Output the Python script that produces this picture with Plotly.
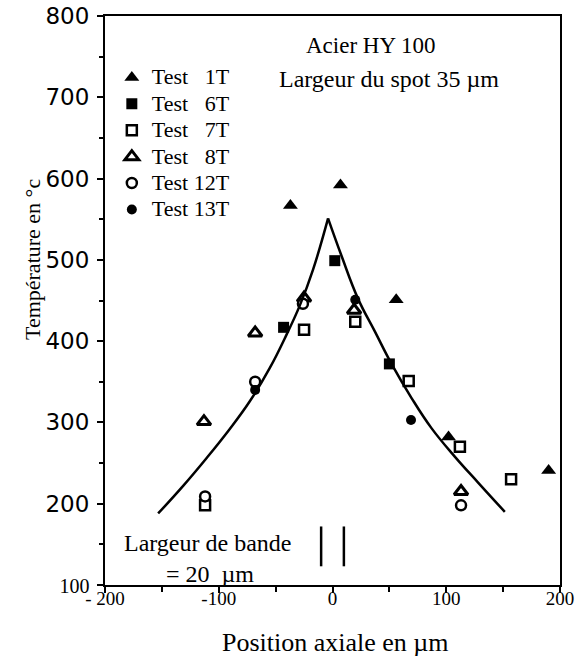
import plotly.graph_objects as go

# ---- data ----
t1_x = [7, -37, 56, 102, 190]
t1_y = [592, 567, 451, 282, 241]
t6_x = [2, -43, 50]
t6_y = [499, 417, 372]
t7_x = [-25, 20, 67, 112, 157, -112]
t7_y = [414, 424, 351, 270, 230, 198]
t8_x = [-68, -113, 19, 113, -25]
t8_y = [410, 301, 438, 215, 453]
t12_x = [-26, -68, -112, 113]
t12_y = [446, 350, 209, 198]
t13_x = [20, -68, 69]
t13_y = [451, 340, 303]

curve_left_x = [-153.3, -131.3, -110.8, -90.3, -72.7, -55.1, -40.4, -28.7, -17.1, -3.9]
curve_left_y = [188, 222, 256, 292, 326, 367, 408, 444, 488, 551]
curve_right_x = [-3.9, 7.9, 22.5, 37.2, 51.9, 69.5, 87, 107.5, 128, 151.5]
curve_right_y = [551, 505, 452, 412, 372, 330, 293, 258, 226, 190]

band_x = [-10, 10]
band_y = [123, 172]

x_tickvals = [-200, -100, 0, 100, 200]
x_ticktext = ["- 200", "-100", "0", "100", "200"]
y_tickvals = [100, 200, 300, 400, 500, 600, 700, 800]
y_ticktext = ["<span style='font-family:Liberation Serif;font-size:20px'>100</span>",
              "200", "300", "400", "500", "600", "700", "800"]

SERIF = "Liberation Serif, Times New Roman, serif"
BLACK = "black"

fig = go.Figure()

def add_pts(x, y, name, symbol, fill, size, lw):
    fig.add_trace(go.Scatter(
        x=x, y=y, mode="markers",
        name="<span style='font-size:22px'>" + name + "</span>",
        marker=dict(symbol=symbol, size=size, color=fill,
                    line=dict(color=BLACK, width=lw))))

add_pts(t1_x, t1_y, "Test\u00a0\u20071T", "triangle-up", BLACK, 13, 0)
add_pts(t6_x, t6_y, "Test\u00a0\u20076T", "square", BLACK, 11, 0)
add_pts(t7_x, t7_y, "Test\u00a0\u20077T", "square", "white", 10, 2.5)
add_pts(t8_x, t8_y, "Test\u00a0\u20078T", "triangle-up", "white", 12, 3)
add_pts(t12_x, t12_y, "Test 12T", "circle", "white", 10, 2.5)
add_pts(t13_x, t13_y, "Test 13T", "circle", BLACK, 10, 0)

for cx, cy in [(curve_left_x, curve_left_y), (curve_right_x, curve_right_y)]:
    fig.add_trace(go.Scatter(x=cx, y=cy, mode="lines", showlegend=False,
                             line=dict(color=BLACK, width=2.5, shape="spline", smoothing=1.2)))

for bx in band_x:
    fig.add_trace(go.Scatter(x=[bx, bx], y=band_y, mode="lines", showlegend=False,
                             line=dict(color=BLACK, width=2.5)))

fig.update_layout(
    template="none",
    width=581, height=659,
    margin=dict(l=105, r=21, t=16, b=74, pad=0),
    paper_bgcolor="white", plot_bgcolor="white",
    font=dict(family=SERIF, color=BLACK),
    showlegend=True,
    legend=dict(x=0.015, y=0.924, xanchor="left", yanchor="top",
                font=dict(family=SERIF, size=18, color=BLACK),
                bgcolor="rgba(0,0,0,0)", borderwidth=0, itemwidth=30),
)

fig.update_xaxes(range=[-200, 200], tickvals=x_tickvals, ticktext=x_ticktext,
                 ticks="outside", ticklen=6, tickwidth=2, tickcolor=BLACK,
                 minor=dict(dtick=50, ticks="outside", ticklen=5, tickwidth=2, tickcolor=BLACK),
                 showline=True, linecolor=BLACK, linewidth=2, mirror=True,
                 showgrid=False, zeroline=False, automargin=False,
                 ticklabelstandoff=-11,
                 tickfont=dict(family=SERIF, size=19, color=BLACK))
fig.update_yaxes(range=[100, 800], tickvals=y_tickvals, ticktext=y_ticktext,
                 ticks="outside", ticklen=6, tickwidth=2, tickcolor=BLACK,
                 minor=dict(dtick=50, ticks="outside", ticklen=4, tickwidth=2, tickcolor=BLACK),
                 showline=True, linecolor=BLACK, linewidth=2, mirror=True,
                 showgrid=False, zeroline=False, automargin=False,
                 ticklabelstandoff=3,
                 tickfont=dict(family="DejaVu Sans", size=23, color=BLACK))

anns = [
    dict(x=33, y=764, text="Acier HY 100", size=23),
    dict(x=50, y=723, text="Largeur du spot 35 \u00b5m", size=24),
    dict(x=-110, y=152, text="Largeur de bande", size=24),
    dict(x=-108, y=113.5, text="= 20 \u00a0\u00b5m", size=24),
]
for a in anns:
    fig.add_annotation(x=a["x"], y=a["y"], xref="x", yref="y", text=a["text"],
                       showarrow=False, font=dict(family=SERIF, size=a["size"], color=BLACK))

# axis titles placed by pixel position, converted to paper coords
PL, PR, PT, PB = 105, 560, 16, 585
def px(x):
    return (x - PL) / (PR - PL)
def py(y):
    return 1 - (y - PT) / (PB - PT)

fig.add_annotation(x=px(32), y=py(260), xref="paper", yref="paper", text="Température en °c",
                   showarrow=False, textangle=-90, xanchor="center", yanchor="middle",
                   font=dict(family=SERIF, size=22, color=BLACK))
fig.add_annotation(x=px(335), y=py(642), xref="paper", yref="paper", text="Position axiale en \u00b5m",
                   showarrow=False, xanchor="center", yanchor="middle",
                   font=dict(family=SERIF, size=26, color=BLACK))

fig.write_html("out.html", config={"displayModeBar": False},
               post_script="document.body.style.margin='0';")
